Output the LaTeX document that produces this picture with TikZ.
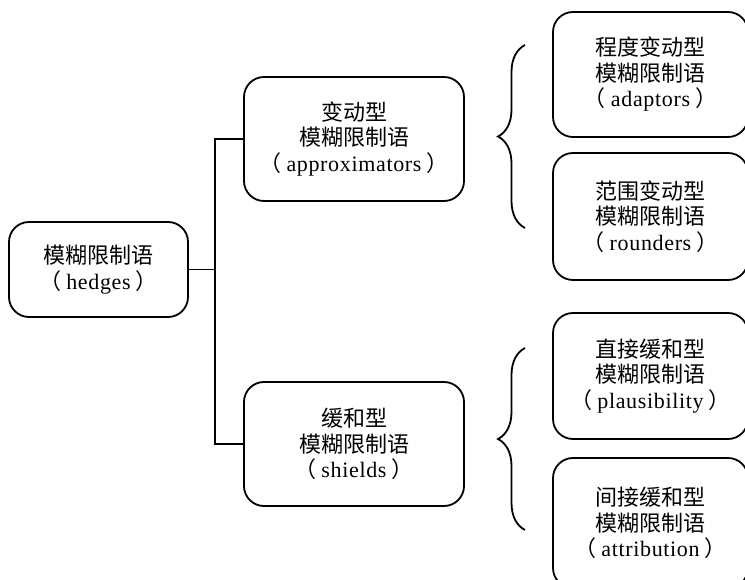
\documentclass[tikz,border=0pt]{standalone}
\usepackage{fontspec}
\setmainfont[LetterSpace=3]{Liberation Serif}
\newfontfamily\cj{Noto Sans CJK SC}
\usetikzlibrary{decorations.pathreplacing}
\newcommand{\lp}{{\cj （}\hspace{5pt}}
\newcommand{\rp}{\hspace{5pt}{\cj ）}}
\begin{document}
\begin{tikzpicture}[x=1pt,y=1pt,
  box/.style={draw, line width=1.8pt, rounded corners=20pt, align=center,
    font=\fontsize{22}{25.5}\selectfont, inner sep=0pt},
  conn/.style={line width=1.8pt},
  brc/.style={line width=1.8pt, decorate, decoration={brace, amplitude=27pt}}]
\useasboundingbox (0,0) rectangle (745,579);
\node[box, minimum width=179pt, minimum height=95pt] (root) at (98.5,309.5)
  {\cj 模糊限制语\\\lp hedges\rp};
\node[box, minimum width=220pt, minimum height=124pt] (approx) at (354,440)
  {\cj 变动型\\\cj 模糊限制语\\\lp approximators\rp};
\node[box, minimum width=220pt, minimum height=124pt] (shields) at (354,135)
  {\cj 缓和型\\\cj 模糊限制语\\\lp shields\rp};
\node[box, minimum width=195pt, minimum height=125pt] (adapt) at (650.5,504.5)
  {\cj 程度变动型\\\cj 模糊限制语\\\lp adaptors\rp};
\node[box, minimum width=195pt, minimum height=127pt] (round) at (650.5,362.5)
  {\cj 范围变动型\\\cj 模糊限制语\\\lp rounders\rp};
\node[box, minimum width=195pt, minimum height=126pt] (plaus) at (650.5,203)
  {\cj 直接缓和型\\\cj 模糊限制语\\\lp plausibility\rp};
\node[box, minimum width=195pt, minimum height=130pt] (attr) at (650.5,56)
  {\cj 间接缓和型\\\cj 模糊限制语\\\lp attribution\rp};
\coordinate (j) at (215,309.5);
\draw[conn] (root.east) -- (j);
\draw[conn] (approx.west) -| (j) |- (shields.west);
\coordinate (b1s) at (525,351);
\coordinate (b1e) at (525,534);
\coordinate (b2s) at (525,49);
\coordinate (b2e) at (525,231);
\draw[brc] (b1s) -- (b1e);
\draw[brc] (b2s) -- (b2e);
\end{tikzpicture}
\end{document}
